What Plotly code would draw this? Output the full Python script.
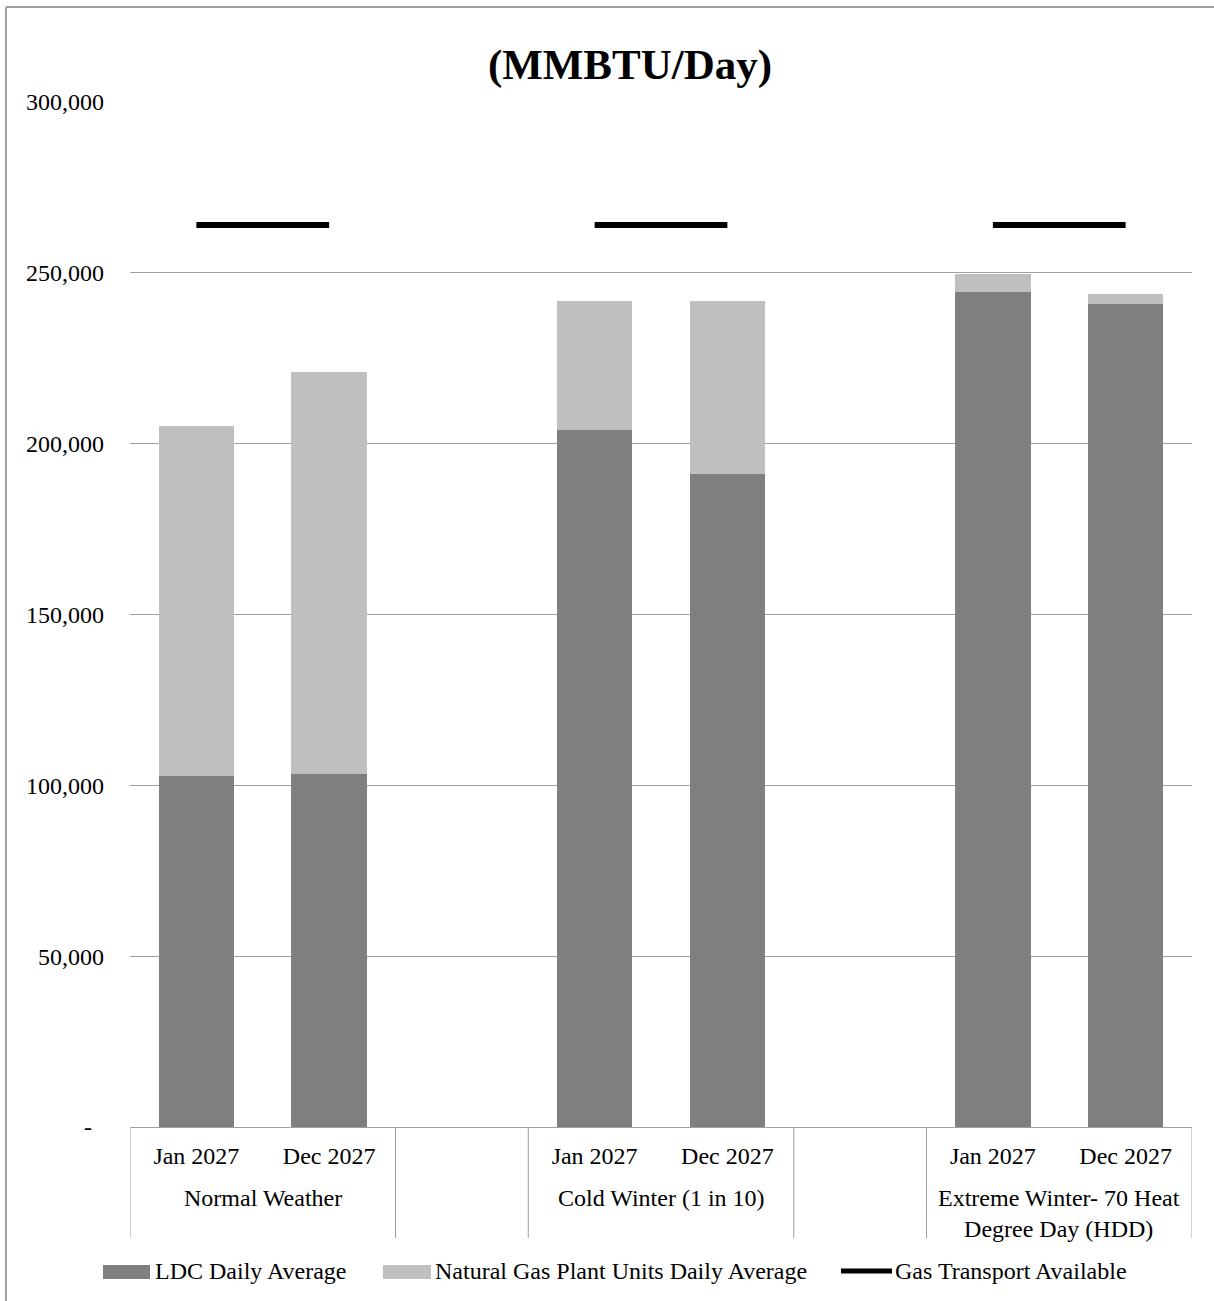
import plotly.graph_objects as go

# Scenario groups and the two months shown in each
scenarios = ["Normal Weather", "Cold Winter (1 in 10)", "Extreme Winter- 70 Heat<br>Degree Day (HDD)"]
months = ["Jan 2027", "Dec 2027"]

# Daily demand, MMBTU/Day (order: scenario by scenario, Jan then Dec)
ldc_avg = [102700, 103300, 204000, 191000, 244300, 241000]
plant_avg = [102500, 117700, 37700, 50700, 5400, 2700]

# Gas transport capacity available in each scenario
transport = [264000, 264000, 264000]

y_ticks = [0, 50000, 100000, 150000, 200000, 250000, 300000]
y_tick_text = ["-\u00a0\u00a0", "50,000", "100,000", "150,000", "200,000", "250,000", "300,000"]

series_names = ["LDC Daily Average", "Natural Gas Plant Units Daily Average", "Gas Transport Available"]
ldc_color = "#7F7F7F"
plant_color = "#BFBFBF"
grid_color = "#A0A0A0"
FONT = "Liberation Serif"
FS = 24

# Each scenario gets two bar slots followed by one empty slot
slot_step = len(months) + 1
x_pos = [i * slot_step + j for i in range(len(scenarios)) for j in range(len(months))]
tick_text = [m for _ in scenarios for m in months]

line_x, line_y = [], []
for i, cap in enumerate(transport):
    line_x += [i * slot_step, i * slot_step + len(months) - 1, None]
    line_y += [cap, cap, None]

fig = go.Figure()
fig.add_trace(go.Bar(x=x_pos, y=ldc_avg, name=series_names[0], marker=dict(color=ldc_color, line=dict(width=0)),
                     width=0.57, showlegend=False))
fig.add_trace(go.Bar(x=x_pos, y=plant_avg, name=series_names[1], marker=dict(color=plant_color, line=dict(width=0)),
                     width=0.57, showlegend=False))
fig.add_trace(go.Scatter(x=line_x, y=line_y, mode="lines", name=series_names[2],
                         line=dict(color="black", width=6), showlegend=False, connectgaps=False))

W, H = 1214, 1301
ML, MR, MT, MB = 130, 22, 102, 174
PW, PH = W - ML - MR, H - MT - MB


def px_x(px):
    return (px - ML) / PW


def px_y(py):
    return (H - MB - py) / PH


shapes = []
annotations = []

# Category separators below the axis
x_last = len(scenarios) * slot_step - 1.5
seps = [-0.5]
for i in range(len(scenarios)):
    seps.append(i * slot_step + len(months) - 0.5)
    if i < len(scenarios) - 1:
        seps.append(i * slot_step + len(months) + 0.5)
for sx in seps:
    shapes.append(dict(type="line", xref="x", yref="paper", x0=sx, x1=sx, y0=0, y1=px_y(1238),
                       line=dict(color=grid_color, width=1)))

# Scenario labels
for i, s in enumerate(scenarios):
    annotations.append(dict(x=i * slot_step + (len(months) - 1) / 2, xref="x", y=px_y(1183), yref="paper",
                            text=s, showarrow=False, yanchor="top", xanchor="center",
                            font=dict(family=FONT, size=FS, color="black")))

# Outer frame
shapes.append(dict(type="line", xref="paper", yref="paper", x0=px_x(6), x1=px_x(6), y0=px_y(1310), y1=px_y(7),
                   line=dict(color=grid_color, width=2)))
shapes.append(dict(type="line", xref="paper", yref="paper", x0=px_x(6), x1=px_x(1220), y0=px_y(7), y1=px_y(7),
                   line=dict(color=grid_color, width=2)))

# Legend
leg_y = px_y(1271)
leg_items = [
    (103, 150, 153, "rect", ldc_color),
    (383, 431, 433, "rect", plant_color),
    (841, 892, 893, "line", "black"),
]
for (a, b, tx, kind, col), name in zip(leg_items, series_names):
    if kind == "rect":
        shapes.append(dict(type="rect", xref="paper", yref="paper", x0=px_x(a), x1=px_x(b),
                           y0=px_y(1279), y1=px_y(1265), fillcolor=col, line=dict(width=0)))
    else:
        shapes.append(dict(type="line", xref="paper", yref="paper", x0=px_x(a), x1=px_x(b),
                           y0=leg_y, y1=leg_y, line=dict(color=col, width=5)))
    annotations.append(dict(x=px_x(tx), xref="paper", y=leg_y, yref="paper", text=name, showarrow=False,
                            xanchor="left", yanchor="middle", font=dict(family=FONT, size=FS, color="black")))

fig.update_layout(
    width=W, height=H,
    margin=dict(l=ML, r=MR, t=MT, b=MB),
    barmode="stack",
    plot_bgcolor="white", paper_bgcolor="white",
    font=dict(family=FONT, size=FS, color="black"),
    title=dict(text="<b>(MMBTU/Day)</b>", x=630 / W, xref="container", xanchor="center",
               y=1 - 64 / H, yref="container", yanchor="middle",
               font=dict(family=FONT, size=43, color="black")),
    xaxis=dict(range=[-0.5, x_last], tickvals=x_pos, ticktext=tick_text, showgrid=False, zeroline=False,
               showline=True, linecolor=grid_color, linewidth=1, ticks="", ticklabelstandoff=7,
               tickfont=dict(family=FONT, size=FS, color="black"), fixedrange=True),
    yaxis=dict(range=[0, 300000], tickvals=y_ticks, ticktext=y_tick_text, showgrid=True, gridcolor=grid_color,
               gridwidth=1, zeroline=False, showline=False, ticks="", ticklabelstandoff=25,
               tickfont=dict(family=FONT, size=FS, color="black")),
    shapes=shapes,
    annotations=annotations,
    showlegend=False,
)

fig.write_html("out.html")
